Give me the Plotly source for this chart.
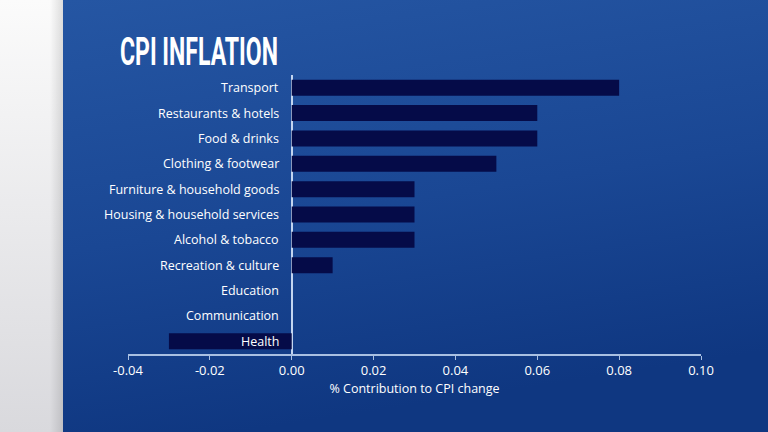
import base64
import plotly.graph_objects as go

# ---- data ----
categories = [
    "Transport",
    "Restaurants & hotels",
    "Food & drinks",
    "Clothing & footwear",
    "Furniture & household goods",
    "Housing & household services",
    "Alcohol & tobacco",
    "Recreation & culture",
    "Education",
    "Communication",
    "Health",
]
contribution = [0.08, 0.06, 0.06, 0.05, 0.03, 0.03, 0.03, 0.01, 0.0, 0.0, -0.03]
x_ticks = [-0.04, -0.02, 0.0, 0.02, 0.04, 0.06, 0.08, 0.10]
x_tick_labels = [f"{v:.2f}" for v in x_ticks]
title_text = "CPI INFLATION"
x_title = "% Contribution to CPI change"

# ---- layout geometry ----
W, H = 768, 432
ML, MR, MT, MB = 128, 67, 75, 78
PW, PH = W - ML - MR, H - MT - MB

LABEL_FONT = "'Open Sans', Lato, sans-serif"

# background (light strip on the left + blue gradient panel)
svg = f"""<svg xmlns='http://www.w3.org/2000/svg' width='{W}' height='{H}' viewBox='0 0 {W} {H}' preserveAspectRatio='none'>
<defs>
<linearGradient id='g' x1='0' y1='0' x2='0.25' y2='1'>
<stop offset='0' stop-color='#2556a3'/>
<stop offset='0.55' stop-color='#1a4794'/>
<stop offset='1' stop-color='#0f3781'/>
</linearGradient>
<linearGradient id='s' x1='0' y1='0' x2='0' y2='1'>
<stop offset='0' stop-color='#fbfbfb'/>
<stop offset='1' stop-color='#d9d9dd'/>
</linearGradient>
<linearGradient id='sh' x1='0' y1='0' x2='1' y2='0'>
<stop offset='0' stop-color='#000' stop-opacity='0'/>
<stop offset='1' stop-color='#000' stop-opacity='0.12'/>
</linearGradient>
</defs>
<rect x='0' y='0' width='{W}' height='{H}' fill='url(#s)'/>
<rect x='50' y='0' width='13' height='{H}' fill='url(#sh)'/>
<rect x='63' y='0' width='{W-63}' height='{H}' fill='url(#g)'/>
</svg>"""
svg_uri = "data:image/svg+xml;base64," + base64.b64encode(svg.encode()).decode()

fig = go.Figure()
fig.add_trace(
    go.Bar(
        x=contribution,
        y=categories,
        orientation="h",
        marker=dict(color="#050b48", line=dict(width=0)),
        width=0.63,
        hoverinfo="x+y",
    )
)

# category labels next to the zero line
for c in categories:
    fig.add_annotation(
        x=0, y=c, xref="x", yref="y",
        text=c, showarrow=False,
        xanchor="right", yanchor="middle", xshift=-11,
        font=dict(family=LABEL_FONT, size=12.5, color="#ffffff"),
    )

TITLE_X = 120
fig.update_layout(
    width=W, height=H,
    margin=dict(l=ML, r=MR, t=MT, b=MB, pad=0),
    paper_bgcolor="#1b4895",
    plot_bgcolor="rgba(0,0,0,0)",
    showlegend=False,
    images=[dict(
        source=svg_uri, xref="paper", yref="paper",
        x=-ML / PW, y=1 + MT / PH, sizex=W / PW, sizey=H / PH,
        xanchor="left", yanchor="top", sizing="stretch", layer="below",
    )],
    title=dict(
        text=f"<b>{title_text}</b>",
        xref="container", yref="container",
        x=TITLE_X / W, y=1 - 51 / H, xanchor="left", yanchor="middle",
        font=dict(family="Roboto, sans-serif", size=39, color="#ffffff"),
    ),
    xaxis=dict(
        range=[-0.04, 0.10],
        tickvals=x_ticks,
        ticktext=x_tick_labels,
        showgrid=False,
        showline=True, linecolor="#a9c0e2", linewidth=1.5,
        ticks="outside", ticklen=4, tickcolor="#a9c0e2", tickwidth=1,
        zeroline=True, zerolinecolor="#c3d5f0", zerolinewidth=1.5,
        tickfont=dict(family=LABEL_FONT, size=13, color="#ffffff"),
        title=dict(text=x_title, standoff=6,
                   font=dict(family=LABEL_FONT, size=12.5, color="#ffffff")),
        fixedrange=True,
    ),
    yaxis=dict(
        categoryorder="array", categoryarray=categories,
        range=[len(categories) - 0.5, -0.5],
        showticklabels=False, showgrid=False, showline=False,
        zeroline=False, ticks="",
        fixedrange=True,
    ),
)

# remove default page margin and give the title a condensed look
post = f"""
document.body.style.margin = '0px';
var t = document.querySelector('.gtitle');
if (t) {{
  var w = t.getBBox().width;
  var s = 158 / w;
  var x0 = {TITLE_X};
  t.setAttribute('transform', 'translate(' + x0 + ',0) scale(' + s + ',1) translate(' + (-x0) + ',0)');
}}
"""
fig.write_html("out.html", post_script=post, config={"displayModeBar": False})
